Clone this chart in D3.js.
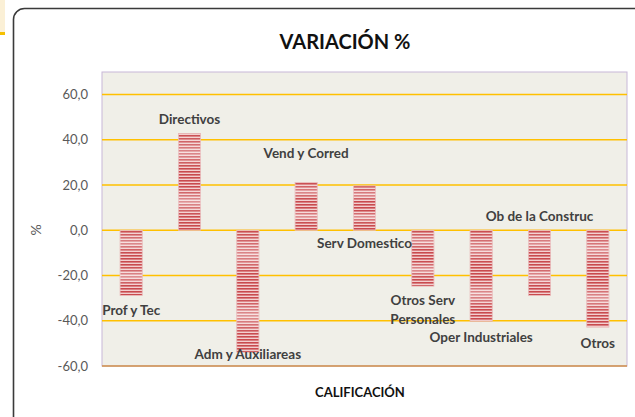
<!DOCTYPE html>
<html>
<head>
<meta charset="utf-8">
<style>
  body { margin: 0; background: #fff; }
  svg { display: block; font-family: Lato, "Open Sans", sans-serif; }
</style>
</head>
<body>
<svg></svg>
<script src="https://cdn.jsdelivr.net/npm/d3@7/dist/d3.min.js"></script>
<script>

  // data
  const categories = ["Prof y Tec", "Directivos", "Adm y Auxiliareas", "Vend y Corred",
                      "Serv Domestico", "Otros Serv Personales", "Oper Industriales",
                      "Ob de la Construc", "Otros"]
  const values = [-28.8, 42.8, -53.9, 21.1, 19.6, -24.7, -40.2, -28.8, -42.8]
  // where each category label sits, in value units
  const labelAt = [-35.4, 49.2, -54.9, 34.2, -5.6, -35.2, -47.3, 6.2, -50.0]
  const labelLines = [["Prof y Tec"], ["Directivos"], ["Adm y Auxiliareas"], ["Vend y Corred"],
                      ["Serv Domestico"], ["Otros Serv", "Personales"], ["Oper Industriales"],
                      ["Ob de la Construc"], ["Otros"]]
  const yTicks = [60, 40, 20, 0, -20, -40, -60]

  const width = 635, height = 417
  const plot = {left: 102, right: 627, top: 72, bottom: 366}

  const svg = d3.select("svg")
      .attr("width", width)
      .attr("height", height)

  // leftover spreadsheet cell top left
  svg.append("rect").attr("x", 0).attr("y", 0).attr("width", 5).attr("height", 32).attr("fill", "#fbf0d6")
  svg.append("rect").attr("x", 0).attr("y", 32).attr("width", 5).attr("height", 3).attr("fill", "#f5c000")

  // chart frame
  svg.append("rect")
    .attr("x", 13.5).attr("y", 8.5)
    .attr("width", 640).attr("height", 430)
    .attr("rx", 11)
    .attr("fill", "#fff")
    .attr("stroke", "#3a3a3a")
    .attr("stroke-width", 1.6)

  const defs = svg.append("defs")
  const pat = defs.append("pattern")
    .attr("id", "stripes")
    .attr("patternUnits", "userSpaceOnUse")
    .attr("width", 30).attr("height", 3)
  pat.append("rect").attr("width", 30).attr("height", 3).attr("fill", "#f3cfcf")
  pat.append("rect").attr("width", 30).attr("height", 1.6).attr("fill", "#c94a4e")

  const fade = defs.append("linearGradient")
    .attr("id", "fade").attr("x1", 0).attr("x2", 0).attr("y1", 0).attr("y2", 1)
  ;[[0, 0], [0.2, 0.35], [0.35, 0], [0.55, 0], [0.7, 0.4], [0.85, 0], [1, 0]].forEach(([o, a]) => {
    fade.append("stop").attr("offset", o).attr("stop-color", "#fff").attr("stop-opacity", a)
  })

  const xScale = d3.scaleBand()
    .domain(categories)
    .range([plot.left, plot.right])
    .paddingInner(0.62)
    .paddingOuter(0.31)

  const yScale = d3.scaleLinear()
    .domain([-60, 60])
    .range([plot.bottom, 94.5])

  // plot area
  svg.append("rect")
    .attr("x", plot.left).attr("y", plot.top)
    .attr("width", plot.right - plot.left).attr("height", plot.bottom - plot.top)
    .attr("fill", "#f0efe8")
    .attr("stroke", "#c8b8d8")
    .attr("stroke-width", 1)

  svg.append("g")
    .selectAll("line")
    .data(yTicks.filter(d => d > -60))
    .join("line")
      .attr("x1", plot.left).attr("x2", plot.right)
      .attr("y1", d => yScale(d)).attr("y2", d => yScale(d))
      .attr("stroke", "#ffc000")
      .attr("stroke-width", 1.5)

  svg.append("line")
    .attr("x1", plot.left).attr("x2", plot.right)
    .attr("y1", plot.bottom).attr("y2", plot.bottom)
    .attr("stroke", "#d08f4a").attr("stroke-width", 1.5)

  // y axis
  const yAxis = d3.axisLeft(yScale)
    .tickValues(yTicks)
    .tickSize(0)
    .tickPadding(14)
    .tickFormat(d => d3.format(".1f")(d).replace(".", ",").replace("−", "-"))
  const gy = svg.append("g")
    .attr("transform", `translate(${plot.left}, 0)`)
    .call(yAxis)
  gy.select(".domain").remove()
  gy.selectAll("text")
    .attr("fill", "#595959")
    .style("font-size", "13px")
    .style("font-family", "Lato, sans-serif")

  svg.append("text")
    .attr("transform", `translate(41, 230) rotate(-90)`)
    .attr("text-anchor", "middle")
    .attr("fill", "#595959")
    .style("font-size", "14px")
    .text("%")

  // bars
  const bars = svg.append("g")
  bars.selectAll(".bar")
    .data(values)
    .join("rect")
      .attr("class", "bar")
      .attr("x", (d, i) => xScale(categories[i]))
      .attr("width", xScale.bandwidth())
      .attr("y", d => yScale(Math.max(0, d)))
      .attr("height", d => Math.abs(yScale(d) - yScale(0)))
      .attr("fill", "url(#stripes)")
      .attr("stroke", "#e8b8b8")
      .attr("stroke-width", 0.8)
  bars.selectAll(".fade")
    .data(values)
    .join("rect")
      .attr("class", "fade")
      .attr("x", (d, i) => xScale(categories[i]))
      .attr("width", xScale.bandwidth())
      .attr("y", d => yScale(Math.max(0, d)))
      .attr("height", d => Math.abs(yScale(d) - yScale(0)))
      .attr("fill", "url(#fade)")

  // category labels
  const labels = svg.append("g")
    .selectAll("text")
    .data(categories)
    .join("text")
      .attr("x", d => xScale(d) + xScale.bandwidth() / 2)
      .attr("y", (d, i) => yScale(labelAt[i]) - (labelLines[i].length - 1) * 9.5)
      .attr("text-anchor", "middle")
      .attr("dominant-baseline", "central")
      .attr("fill", "#404040")
      .style("font-size", "13.5px")
      .style("font-weight", "bold")
  labels.selectAll("tspan")
    .data((d, i) => labelLines[i])
    .join("tspan")
      .attr("x", function () { return this.parentNode.getAttribute("x") })
      .attr("dy", (d, j) => j === 0 ? 0 : 19)
      .text(d => d)

  // titles
  svg.append("text")
    .attr("x", 345).attr("y", 49)
    .attr("text-anchor", "middle")
    .attr("fill", "#111")
    .style("font-size", "20px")
    .style("font-weight", "bold")
    .text("VARIACIÓN %")

  svg.append("text")
    .attr("x", 360).attr("y", 397)
    .attr("text-anchor", "middle")
    .attr("fill", "#111")
    .style("font-size", "13px")
    .style("font-weight", "bold")
    .text("CALIFICACIÓN")

</script>
</body>
</html>
